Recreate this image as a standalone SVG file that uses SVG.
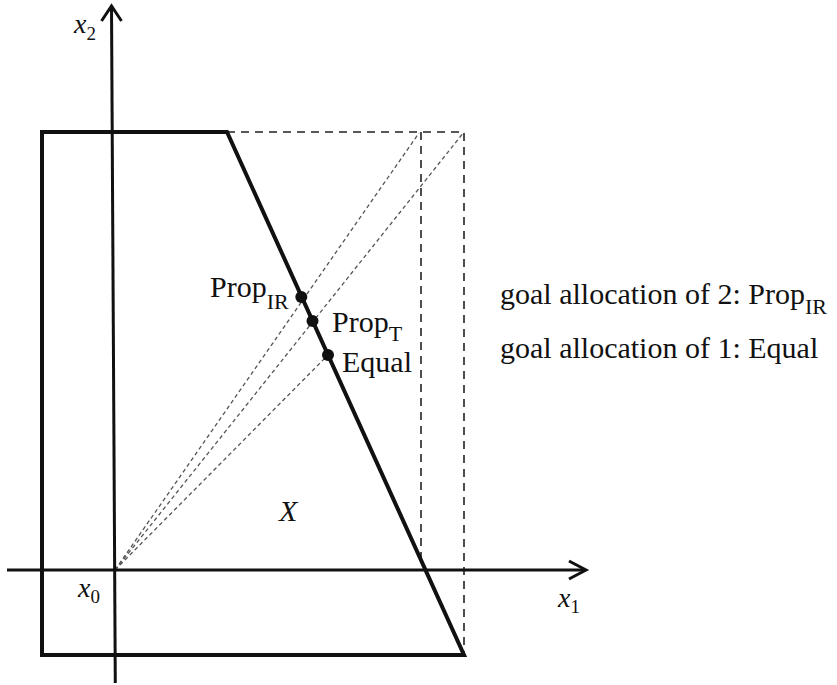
<svg xmlns="http://www.w3.org/2000/svg" width="837" height="685" viewBox="0 0 837 685">
<style>
.t{font-family:"Liberation Serif","Times New Roman",serif;font-size:30px;fill:#111}
.i{font-style:italic}
.ax{font-size:28px}
.dash{fill:none;stroke:#222;stroke-width:1.6;stroke-dasharray:8 6}
.dot{fill:none;stroke:#555;stroke-width:1.3;stroke-dasharray:4 3}
.axis{fill:none;stroke:#111;stroke-width:3}
</style>
<rect width="837" height="685" fill="#fff"/>
<g id="guides">
<path class="dash" d="M227 132H464V655"/>
<path class="dash" d="M421 132V558"/>
<path class="dot" d="M115 570L419 133"/>
<path class="dot" d="M115 570L464 132"/>
<path class="dot" d="M115 570L328 355"/>
</g>
<g id="axes">
<path class="axis" d="M7 570H585"/>
<path class="axis" d="M569 561L586 570L569 579"/>
<path class="axis" d="M111.5 6L115.3 683"/>
<path class="axis" d="M101.5 21L111.5 6L121.5 21"/>
</g>
<g id="region">
<path d="M227 132H42V655H464Z" fill="none" stroke="#111" stroke-width="4"/>
</g>
<g id="points" fill="#111">
<circle cx="301.3" cy="297" r="6"/>
<circle cx="312.5" cy="321" r="6"/>
<circle cx="328" cy="355" r="6"/>
</g>
<g id="labels">
<text class="t i ax" x="74" y="33">x<tspan font-size="19" font-style="normal" dy="7">2</tspan></text>
<text class="t i ax" x="78" y="597">x<tspan font-size="19" font-style="normal" dy="6">0</tspan></text>
<text class="t i ax" x="558" y="607">x<tspan font-size="19" font-style="normal" dy="6">1</tspan></text>
<text class="t i" x="279" y="521">X</text>
<text class="t" x="210" y="297">Prop<tspan font-size="22" dy="12">IR</tspan></text>
<text class="t" x="332" y="332">Prop<tspan font-size="22" dy="9">T</tspan></text>
<text class="t" x="342" y="372">Equal</text>
<text class="t" x="500" y="304">goal allocation of 2: Prop<tspan font-size="22" dy="10">IR</tspan></text>
<text class="t" x="500" y="358">goal allocation of 1: Equal</text>
</g>
</svg>
